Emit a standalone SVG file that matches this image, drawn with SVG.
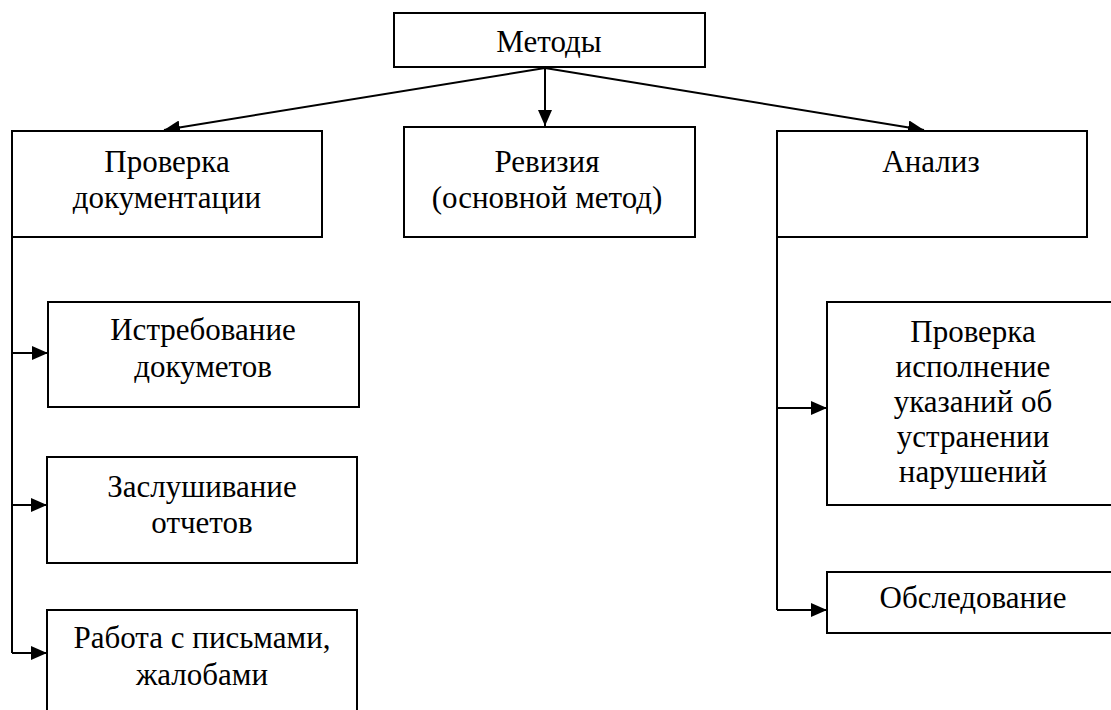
<svg xmlns="http://www.w3.org/2000/svg" width="1111" height="710" viewBox="0 0 1111 710">
<defs>
<marker id="ah" markerUnits="userSpaceOnUse" markerWidth="18" markerHeight="14" refX="16" refY="7" orient="auto">
<path d="M0,0 L16,7 L0,14 Z" fill="#000"/>
</marker>
</defs>
<rect width="1111" height="710" fill="#fff"/>
<g id="connectors" fill="none" stroke="#000" stroke-width="2">
<line x1="545" y1="68" x2="164" y2="130" marker-end="url(#ah)"/>
<line x1="545" y1="68" x2="545" y2="126" marker-end="url(#ah)"/>
<line x1="545" y1="68" x2="924" y2="130" marker-end="url(#ah)"/>
<polyline points="12,237 12,653"/>
<line x1="12" y1="353" x2="48" y2="353" marker-end="url(#ah)"/>
<line x1="12" y1="505" x2="47" y2="505" marker-end="url(#ah)"/>
<line x1="12" y1="653" x2="47" y2="653" marker-end="url(#ah)"/>
<polyline points="777,237 777,610"/>
<line x1="777" y1="408" x2="827" y2="408" marker-end="url(#ah)"/>
<line x1="777" y1="610" x2="827" y2="610" marker-end="url(#ah)"/>
</g>
<g id="n-metody">
<rect x="394" y="13" width="311" height="54" fill="#fff" stroke="#000" stroke-width="2"/>
<text x="549" y="52" style="font-family:'Liberation Serif',serif;font-size:31px" text-anchor="middle">Методы</text>
</g>
<g id="n-proverka-dok">
<rect x="12" y="131" width="310" height="106" fill="#fff" stroke="#000" stroke-width="2"/>
<text x="167" y="172" style="font-family:'Liberation Serif',serif;font-size:31px" text-anchor="middle">Проверка</text>
<text x="167" y="208" style="font-family:'Liberation Serif',serif;font-size:31px" text-anchor="middle">документации</text>
</g>
<g id="n-reviziya">
<rect x="404" y="127" width="291" height="110" fill="#fff" stroke="#000" stroke-width="2"/>
<text x="547" y="172" style="font-family:'Liberation Serif',serif;font-size:31px" text-anchor="middle">Ревизия</text>
<text x="547" y="208" style="font-family:'Liberation Serif',serif;font-size:31px" text-anchor="middle">(основной метод)</text>
</g>
<g id="n-analiz">
<rect x="777" y="131" width="310" height="106" fill="#fff" stroke="#000" stroke-width="2"/>
<text x="931" y="172" style="font-family:'Liberation Serif',serif;font-size:31px" text-anchor="middle">Анализ</text>
</g>
<g id="n-istrebovanie">
<rect x="48" y="302" width="311" height="105" fill="#fff" stroke="#000" stroke-width="2"/>
<text x="203" y="340" style="font-family:'Liberation Serif',serif;font-size:31px" text-anchor="middle">Истребование</text>
<text x="203" y="377" style="font-family:'Liberation Serif',serif;font-size:31px" text-anchor="middle">докуметов</text>
</g>
<g id="n-zaslushivanie">
<rect x="47" y="457" width="310" height="106" fill="#fff" stroke="#000" stroke-width="2"/>
<text x="202" y="497" style="font-family:'Liberation Serif',serif;font-size:31px" text-anchor="middle">Заслушивание</text>
<text x="202" y="533" style="font-family:'Liberation Serif',serif;font-size:31px" text-anchor="middle">отчетов</text>
</g>
<g id="n-rabota">
<rect x="47" y="610" width="310" height="104" fill="#fff" stroke="#000" stroke-width="2"/>
<text x="202" y="648" style="font-family:'Liberation Serif',serif;font-size:31px" text-anchor="middle">Работа с письмами,</text>
<text x="202" y="685" style="font-family:'Liberation Serif',serif;font-size:31px" text-anchor="middle">жалобами</text>
</g>
<g id="n-proverka-isp">
<rect x="827" y="302" width="290" height="203" fill="#fff" stroke="#000" stroke-width="2"/>
<text x="973" y="342" style="font-family:'Liberation Serif',serif;font-size:31px" text-anchor="middle">Проверка</text>
<text x="973" y="377" style="font-family:'Liberation Serif',serif;font-size:31px" text-anchor="middle">исполнение</text>
<text x="973" y="412" style="font-family:'Liberation Serif',serif;font-size:31px" text-anchor="middle">указаний об</text>
<text x="973" y="447" style="font-family:'Liberation Serif',serif;font-size:31px" text-anchor="middle">устранении</text>
<text x="973" y="482" style="font-family:'Liberation Serif',serif;font-size:31px" text-anchor="middle">нарушений</text>
</g>
<g id="n-obsledovanie">
<rect x="827" y="572" width="290" height="61" fill="#fff" stroke="#000" stroke-width="2"/>
<text x="973" y="608" style="font-family:'Liberation Serif',serif;font-size:31px" text-anchor="middle">Обследование</text>
</g>
</svg>
